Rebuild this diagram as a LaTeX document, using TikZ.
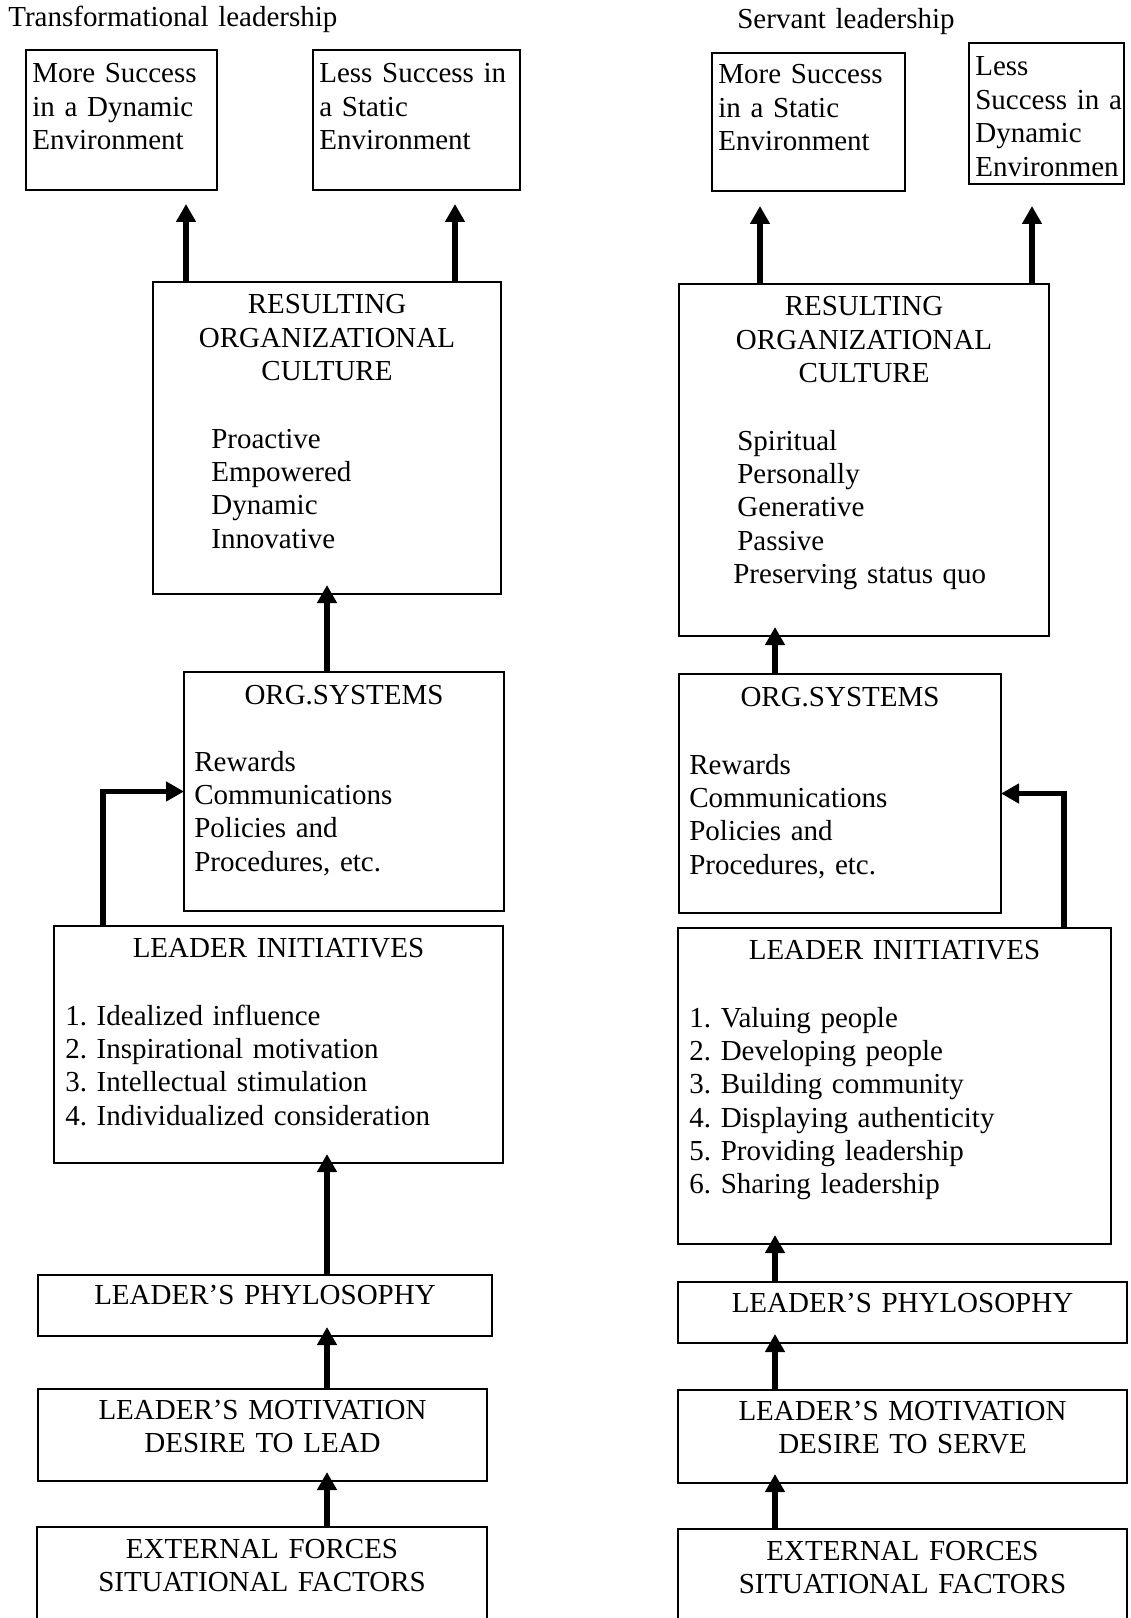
\documentclass[tikz,border=0pt]{standalone}
\usepackage{fontspec}
\setmainfont{Liberation Serif}
\usetikzlibrary{arrows.meta, calc}
\tikzset{
    box/.style={
        rectangle,
        draw=black,
        line width=1.1pt,
        inner sep=0pt,
        outer sep=0pt,
        anchor=north west
    },
    sz/.style 2 args={
        minimum width=#1*0.02cm,
        minimum height=#2*0.02cm
    },
    head/.style={
        inner sep=0pt,
        text width=#1*0.02cm,
        align=center, % judul di tengah kotak
        anchor=base
    },
    txt/.style={
        inner sep=0pt,
        text width=#1*0.02cm,
        align=left,
        anchor=base west
    }
}

\begin{document}
\begin{tikzpicture}[
    x=0.02cm, y=-0.02cm,
    every node/.style={font=\fontsize{16.5}{19}\selectfont\frenchspacing},
    arrow/.style={-{Triangle[length=0.36cm, width=0.38cm]}, line width=3pt},
    into/.style={shorten >=-0.18cm}
]
\useasboundingbox (0,0) rectangle (1131,1618);

% Titles
\node[txt=400] (titleA) at (8,27) {Transformational leadership};
\node[txt=300] (titleB) at (737,29) {Servant leadership};

% Left column: transformational
\node[box, sz={191}{140}] (moreA) at (26,50) {};
\node[box, sz={207}{140}] (lessA) at (313,50) {};
\node[box, sz={348}{312}] (cultA) at (153,282) {};
\node[box, sz={320}{239}] (sysA) at (184,672) {};
\node[box, sz={449}{237}] (initA) at (54,926) {};
\node[box, sz={454}{61}] (philA) at (38,1275) {};
\node[box, sz={449}{92}] (motA) at (38,1389) {};
\node[box, sz={450}{140}] (extA) at (37,1527) {};

\node[txt=180] (moreAt) at ($(moreA.north west)+(6,33)$) {More Success\\in a Dynamic\\Environment};
\node[txt=196] (lessAt) at ($(lessA.north west)+(6,33)$) {Less Success in\\a Static\\Environment};
\node[head=348] (cultAh) at ($(cultA.north)+(0,32)$) {RESULTING\\ORGANIZATIONAL\\CULTURE};
\node[txt=280] (cultAl) at ($(cultA.north west)+(58,166)$) {Proactive\\Empowered\\Dynamic\\Innovative};
\node[head=320] (sysAh) at ($(sysA.north)+(0,32)$) {ORG.SYSTEMS};
\node[txt=300] (sysAl) at ($(sysA.north west)+(10,99)$) {Rewards\\Communications\\Policies and\\Procedures, etc.};
\node[head=449] (initAh) at ($(initA.north)+(0,31)$) {LEADER INITIATIVES};
\node[txt=430] (initAl) at ($(initA.north west)+(11,99)$) {1. Idealized influence\\2. Inspirational motivation\\3. Intellectual stimulation\\4. Individualized consideration};
\node[head=454] (philAh) at ($(philA.north)+(0,29)$) {LEADER’S PHYLOSOPHY};
\node[head=449] (motAh) at ($(motA.north)+(0,30)$) {LEADER’S MOTIVATION\\DESIRE TO LEAD};
\node[head=450] (extAh) at ($(extA.north)+(0,31)$) {EXTERNAL FORCES\\SITUATIONAL FACTORS};

% Right column: servant
\node[box, sz={193}{138}] (moreB) at (712,53) {};
\node[box, sz={155}{141}] (lessB) at (969,43) {};
\node[box, sz={370}{352}] (cultB) at (679,284) {};
\node[box, sz={322}{239}] (sysB) at (679,674) {};
\node[box, sz={433}{316}] (initB) at (678,928) {};
\node[box, sz={449}{61}] (philB) at (678,1282) {};
\node[box, sz={449}{93}] (motB) at (678,1390) {};
\node[box, sz={449}{140}] (extB) at (678,1529) {};

\node[txt=183] (moreBt) at ($(moreB.north west)+(6,31)$) {More Success\\in a Static\\Environment};
\node[txt=148] (lessBt) at ($(lessB.north west)+(6,33)$) {Less\\Success in a\\Dynamic\\Environmen};
\node[head=370] (cultBh) at ($(cultB.north)+(0,32)$) {RESULTING\\ORGANIZATIONAL\\CULTURE};
\node[txt=300] (cultBl) at ($(cultB.north west)+(58,166)$) {Spiritual\\Personally\\Generative\\Passive\\\hspace*{-0.08cm}Preserving status quo};
\node[head=322] (sysBh) at ($(sysB.north)+(0,32)$) {ORG.SYSTEMS};
\node[txt=305] (sysBl) at ($(sysB.north west)+(10,100)$) {Rewards\\Communications\\Policies and\\Procedures, etc.};
\node[head=433] (initBh) at ($(initB.north)+(0,31)$) {LEADER INITIATIVES};
\node[txt=415] (initBl) at ($(initB.north west)+(11,99)$) {1. Valuing people\\2. Developing people\\3. Building community\\4. Displaying authenticity\\5. Providing leadership\\6. Sharing leadership};
\node[head=449] (philBh) at ($(philB.north)+(0,30)$) {LEADER’S PHYLOSOPHY};
\node[head=449] (motBh) at ($(motB.north)+(0,30)$) {LEADER’S MOTIVATION\\DESIRE TO SERVE};
\node[head=449] (extBh) at ($(extB.north)+(0,31)$) {EXTERNAL FORCES\\SITUATIONAL FACTORS};

% Arrow axes
\coordinate (colA) at (327,0);
\coordinate (colB) at (775,0);

\foreach \x/\lo/\hi/\gap in {186/cultA/moreA/14, 455/cultA/lessA/14, 760/cultB/moreB/15, 1032/cultB/lessB/22}
    \draw[arrow, shorten >=\gap*0.02cm] (\x,0 |- \lo.north) -- (\x,0 |- \hi.south);

\foreach \lo/\hi in {sysA/cultA, philA/initA, motA/philA, extA/motA}
    \draw[arrow, into] (colA |- \lo.north) -- (colA |- \hi.south);
\foreach \lo/\hi in {sysB/cultB, philB/initB, motB/philB, extB/motB}
    \draw[arrow, into] (colB |- \lo.north) -- (colB |- \hi.south);

\draw[arrow] (103,0 |- initA.north) |- (sysA.west);
\draw[arrow] (1064,0 |- initB.north) |- (sysB.east);

\end{tikzpicture}
\end{document}
